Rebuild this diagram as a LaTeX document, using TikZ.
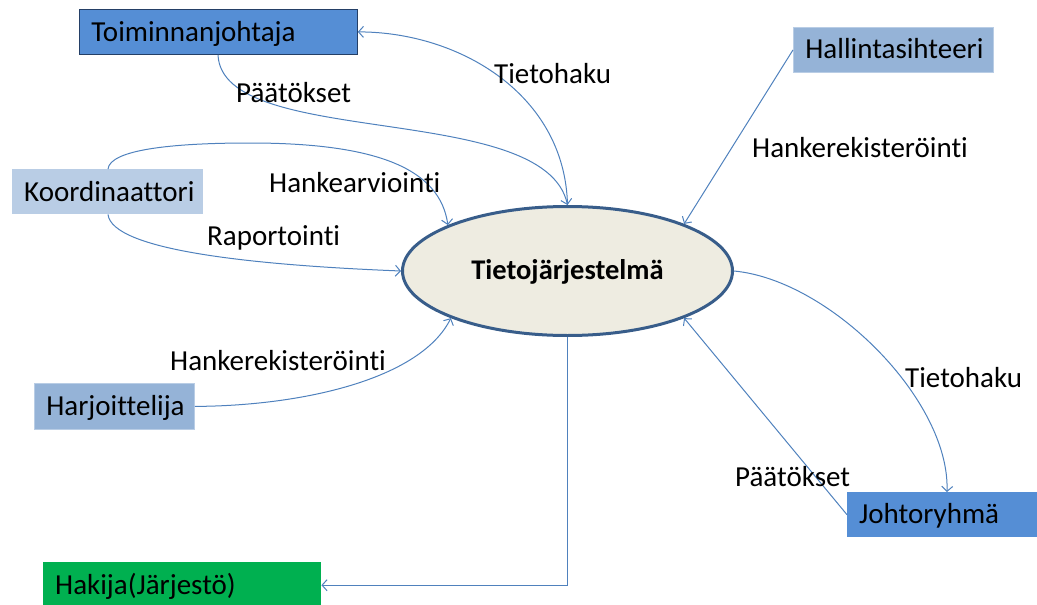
\documentclass[tikz,border=0pt]{standalone}
\usepackage{fontspec}
\setmainfont{Carlito}[Ligatures={NoCommon}]
\usetikzlibrary{arrows.meta,shapes.geometric}

\definecolor{roleDark}{HTML}{558ED5}
\definecolor{roleEdge}{HTML}{243F66}
\definecolor{roleMid}{HTML}{95B3D7}
\definecolor{roleLight}{HTML}{B9CDE5}
\definecolor{roleGreen}{HTML}{00B050}
\definecolor{linkBlue}{HTML}{4F81BD}
\definecolor{ovalFill}{HTML}{EEECE1}
\definecolor{ovalEdge}{HTML}{385D8A}

\tikzset{
  role/.style={rectangle, anchor=north west, inner xsep=12pt, inner ysep=0pt,
    align=left, text height=20pt, text depth=3pt, minimum height=45pt,
    font=\fontsize{29}{35}\selectfont},
  lbl/.style={anchor=base west, inner sep=0pt, font=\fontsize{29}{35}\selectfont},
  flow/.style={draw=linkBlue, line width=1pt,
    -{Straight Barb[length=5pt,width=11pt,line width=1pt]}},
}

\begin{document}
\begin{tikzpicture}[x=1pt,y=-1pt]
  \useasboundingbox (0,0) rectangle (1037,605);
  \clip (0,0) rectangle (1037,605);

  % actors
  \node[role, fill=roleDark, draw=roleEdge, line width=0.8pt, text width=254pt, text depth=0pt]
    (toim) at (79,9) {Toiminnanjohtaja};
  \node[role, fill=roleMid, draw=roleLight, line width=0.8pt, text width=176pt]
    (hall) at (793,27) {Hallintasihteeri};
  \node[role, fill=roleLight, text width=167pt, text depth=0pt]
    (koord) at (12,169) {Koordinaattori};
  \node[role, fill=roleMid, draw=roleLight, line width=0.8pt, minimum height=46pt,
    text width=136pt, text depth=2pt]
    (harj) at (34,383) {Harjoittelija};
  \node[role, fill=roleGreen, minimum height=46pt, text width=254pt, text depth=1pt]
    (hakija) at (43,562) {Hakija(Järjestö)};
  \node[role, fill=roleDark, text width=176pt]
    (johto) at (847,492) {Johtoryhmä};

  % central system
  \node[ellipse, draw=ovalEdge, line width=3pt, fill=ovalFill,
    minimum width=330pt, minimum height=129pt, inner sep=0pt,
    text height=20pt, text depth=3pt, font=\fontsize{28.5}{34}\selectfont\bfseries]
    (sys) at (567.5,271) {Tietojärjestelmä};

  % flows
  \draw[flow] ([xshift=139pt]toim.south west) .. controls (222,150) and (545,100) .. (sys.north);
  \draw[flow] (sys.north) .. controls (565,95) and (460,32) .. (toim.east);
  \draw[flow] ([xshift=96pt]koord.north west) .. controls (110,150) and (170,143) .. (250,143)
    .. controls (380,143) and (440,170) .. (sys.159);
  \draw[flow] ([xshift=96pt]koord.south west) .. controls (112,250) and (250,265) .. (sys.west);
  \draw[flow] (harj.east) .. controls (300,406) and (420,380) .. (sys.202);
  \draw[flow] (hall.west) -- (sys.22);
  \draw[flow] (sys.east) .. controls (830,280) and (950,400) .. ([xshift=100pt]johto.north west);
  \draw[flow] (johto.west) -- (sys.-22);
  \draw[flow] (sys.south) |- (hakija.east);

  % flow labels
  \node[lbl] (lblTietohakuA) at (494,83) {Tietohaku};
  \node[lbl] (lblPaatoksetA) at (236,102) {Päätökset};
  \node[lbl] (lblRekisteriA) at (752,157) {Hankerekisteröinti};
  \node[lbl] (lblArviointi) at (269,192) {Hankearviointi};
  \node[lbl] (lblRaportointi) at (207,245) {Raportointi};
  \node[lbl] (lblRekisteriB) at (170,370) {Hankerekisteröinti};
  \node[lbl] (lblTietohakuB) at (905,387) {Tietohaku};
  \node[lbl] (lblPaatoksetB) at (735,486) {Päätökset};
\end{tikzpicture}
\end{document}
